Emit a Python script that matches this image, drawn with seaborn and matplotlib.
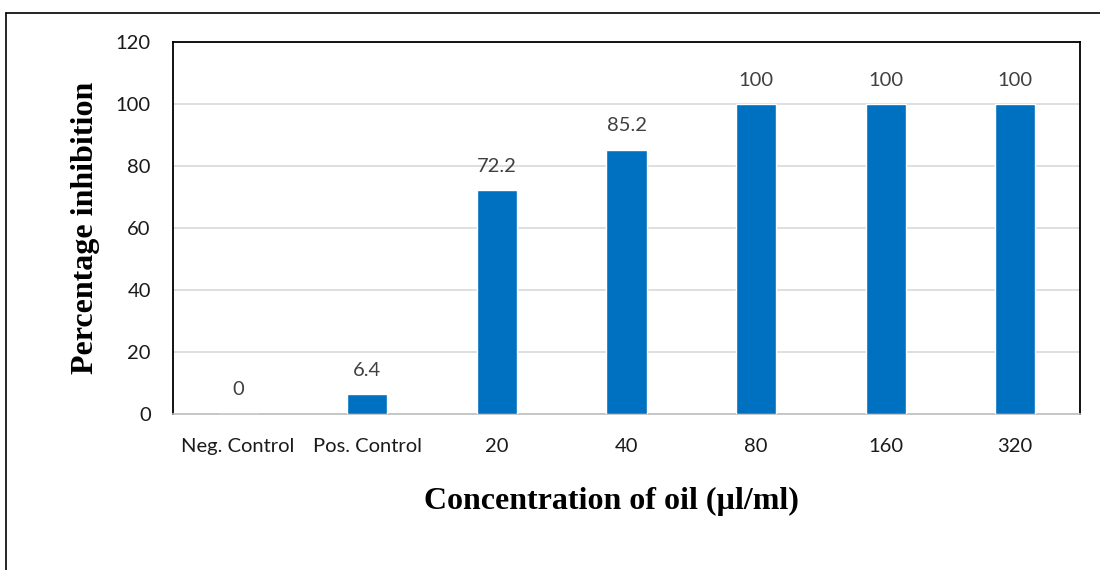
import matplotlib
matplotlib.use("Agg")
import matplotlib.pyplot as plt
import seaborn as sns
import pandas as pd
from matplotlib.lines import Line2D

categories = ["Neg. Control", "Pos. Control", "20", "40", "80", "160", "320"]
inhibition = [0, 6.4, 72.2, 85.2, 100, 100, 100]
value_labels = ["0", "6.4", "72.2", "85.2", "100", "100", "100"]
y_ticks = [0, 20, 40, 60, 80, 100, 120]

df = pd.DataFrame({"concentration": categories, "inhibition": inhibition})

sns.set_theme(style="white")
plt.rcParams["font.family"] = ["Lato", "DejaVu Sans"]

fig = plt.figure(figsize=(11, 5.7), dpi=100)
ax = fig.add_axes([0.1573, 0.2737, 0.8245, 0.6526])

sns.barplot(data=df, x="concentration", y="inhibition", order=categories,
            color="#0070C0", saturation=1, width=0.31, ax=ax, zorder=3)

ax.set_ylim(0, 120)
ax.set_xlim(-0.5, len(categories) - 0.5)
ax.set_yticks(y_ticks)
ax.set_yticklabels([str(t) for t in y_ticks], fontsize=14.5, color="#1a1a1a")
ax.set_xticks(range(len(categories)))
ax.set_xticklabels(categories, fontsize=14.5, color="#1a1a1a")
ax.tick_params(axis="y", length=0, pad=16)
ax.tick_params(axis="x", length=0, pad=17)

ax.yaxis.grid(True, color="#d9d9d9", linewidth=1.2, zorder=0)
ax.set_axisbelow(True)

for side in ["left", "top", "right"]:
    ax.spines[side].set_visible(True)
    ax.spines[side].set_color("black")
    ax.spines[side].set_linewidth(1.3)
ax.spines["bottom"].set_color("#bfbfbf")
ax.spines["bottom"].set_linewidth(1.2)

for i, (v, lab) in enumerate(zip(inhibition, value_labels)):
    ax.text(i, v + 5, lab, ha="center", va="bottom", fontsize=14.5, color="#404040")

ax.set_ylabel("Percentage inhibition", family=["Liberation Serif"], fontsize=23,
              fontweight="bold", color="black", labelpad=11)
ax.set_xlabel("Concentration of oil (\u00b5l/ml)", family=["Liberation Serif"],
              fontsize=23, fontweight="bold", color="black", labelpad=24)
ax.xaxis.set_label_coords(0.483, -0.195)

# partial figure frame (top and left edges)
fig.add_artist(Line2D([6 / 1100, 1.0], [1 - 13 / 570, 1 - 13 / 570],
                      transform=fig.transFigure, color="black", linewidth=1.2))
fig.add_artist(Line2D([6 / 1100, 6 / 1100], [0, 1 - 13 / 570],
                      transform=fig.transFigure, color="black", linewidth=1.2))

fig.savefig("out.png", dpi=100)
